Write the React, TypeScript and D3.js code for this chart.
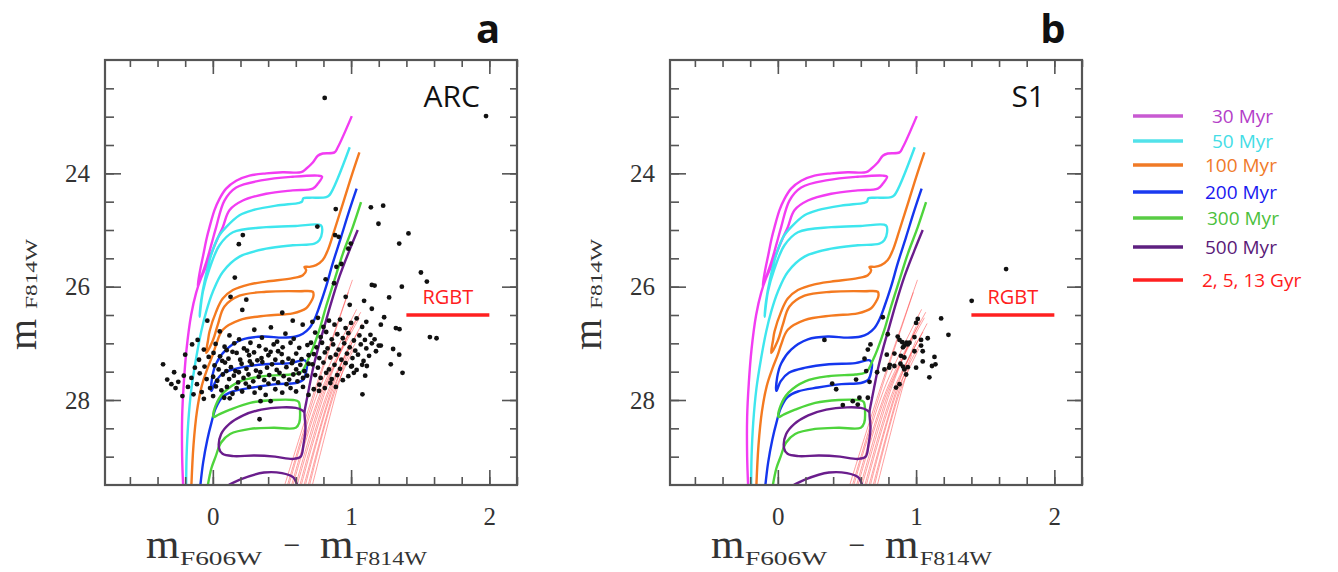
import React, { useEffect, useRef } from "react";
import * as d3 from "d3";

// Isochrone tracks, as [m_F606W - m_F814W, m_F814W]
// Each young track runs MS -> first crossing -> loop -> second crossing -> red branch
const track30 = [
  [-0.215, 29.5], [-0.222, 29.0], [-0.222, 28.3], [-0.21, 27.7], [-0.19, 27.1], [-0.157, 26.5],
  [-0.12, 26.1], [-0.085, 25.85], [-0.04, 25.6], [0.0, 25.35], [0.04, 25.12], [0.072, 24.95],
  [0.12, 24.65], [0.217, 24.48], [0.386, 24.36], [0.578, 24.3], [0.723, 24.27], [0.76, 24.18],
  [0.79, 24.06], [0.759, 24.04], [0.578, 24.06], [0.361, 24.12], [0.169, 24.25], [0.084, 24.48],
  [0.024, 24.95], [-0.01, 25.25], [-0.045, 25.55], [-0.08, 25.8], [-0.11, 26.0], [-0.095, 25.75],
  [-0.07, 25.45], [-0.045, 25.15], [-0.024, 24.95], [0.012, 24.65], [0.048, 24.45], [0.096, 24.27],
  [0.169, 24.13], [0.265, 24.04], [0.386, 24.0], [0.506, 23.98], [0.639, 23.98], [0.675, 23.92],
  [0.723, 23.81], [0.759, 23.69], [0.795, 23.65], [0.88, 23.63], [0.904, 23.54], [1.005, 22.99],
];
const track50 = [
  [-0.193, 29.5], [-0.19, 29.0], [-0.178, 28.4], [-0.155, 27.8], [-0.12, 27.25], [-0.084, 26.79],
  [-0.048, 26.44], [0.0, 26.09], [0.072, 25.74], [0.193, 25.47], [0.386, 25.33], [0.578, 25.27],
  [0.735, 25.24], [0.77, 25.18], [0.79, 25.04], [0.783, 24.92], [0.6, 24.93], [0.386, 24.95],
  [0.145, 25.04], [0.048, 25.27], [-0.024, 25.68], [-0.072, 26.09], [-0.096, 26.53], [-0.085, 26.25],
  [-0.055, 25.85], [-0.01, 25.42], [0.04, 25.12], [0.096, 24.95], [0.193, 24.74], [0.289, 24.65],
  [0.458, 24.57], [0.627, 24.52], [0.645, 24.5], [0.655, 24.44], [0.7, 24.43], [0.82, 24.42],
  [0.845, 24.38], [0.99, 23.54],
];
const track100 = [
  [-0.155, 29.5], [-0.14, 28.8], [-0.115, 28.2], [-0.08, 27.75], [-0.04, 27.45], [0.0, 27.2],
  [0.024, 27.02], [0.072, 26.76], [0.193, 26.59], [0.386, 26.51], [0.578, 26.47], [0.675, 26.38],
  [0.718, 26.23], [0.728, 26.16], [0.723, 26.09], [0.627, 26.08], [0.386, 26.09], [0.193, 26.16],
  [0.084, 26.35], [0.036, 26.67], [0.0, 26.95], [-0.048, 27.17], [-0.035, 26.95], [-0.024, 26.79],
  [0.024, 26.44], [0.072, 26.21], [0.145, 26.06], [0.265, 25.96], [0.386, 25.91], [0.578, 25.85],
  [0.651, 25.8], [0.675, 25.71], [0.663, 25.65], [0.699, 25.65], [0.747, 25.62], [0.795, 25.53],
  [0.831, 25.36], [0.88, 25.0], [0.94, 24.54], [1.0, 24.07], [1.06, 23.63],
];
const track200 = [
  [-0.09, 29.5], [-0.07, 29.1], [-0.04, 28.7], [-0.01, 28.4], [0.02, 28.15], [0.07, 27.95],
  [0.145, 27.85], [0.29, 27.78], [0.46, 27.72], [0.6, 27.7], [0.655, 27.64], [0.675, 27.5],
  [0.68, 27.35], [0.665, 27.3], [0.56, 27.35], [0.37, 27.37], [0.2, 27.43], [0.08, 27.52],
  [0.02, 27.67], [-0.01, 27.84], [-0.005, 27.6], [0.025, 27.35], [0.096, 27.11], [0.217, 26.93],
  [0.361, 26.88], [0.506, 26.9], [0.6, 26.88], [0.651, 26.83], [0.699, 26.73], [0.735, 26.58],
  [0.771, 26.35], [0.819, 26.0], [0.867, 25.59], [0.928, 25.12], [0.988, 24.65], [1.04, 24.27],
];
const track300 = [
  [-0.036, 29.5], [-0.01, 29.2], [0.02, 29.0], [0.06, 28.75], [0.125, 28.6], [0.27, 28.51],
  [0.44, 28.49], [0.6, 28.49], [0.625, 28.4], [0.631, 28.22], [0.62, 28.03], [0.58, 28.0],
  [0.44, 28.0], [0.27, 28.05], [0.125, 28.17], [0.04, 28.26], [0.005, 28.3], [0.02, 28.1],
  [0.077, 27.87], [0.198, 27.67], [0.366, 27.58], [0.56, 27.55], [0.63, 27.52], [0.655, 27.46],
  [0.687, 27.3], [0.72, 27.11], [0.771, 26.76], [0.819, 26.35], [0.88, 25.88], [0.94, 25.42],
  [1.012, 24.95], [1.072, 24.51],
];
const track500 = [
  [1.048, 25.0], [0.988, 25.36], [0.916, 25.82], [0.855, 26.29], [0.807, 26.7], [0.759, 27.11],
  [0.723, 27.46], [0.699, 27.75], [0.675, 28.05], [0.663, 28.22], [0.67, 28.5], [0.655, 28.8],
  [0.635, 29.0], [0.58, 29.04], [0.45, 29.0], [0.3, 28.98], [0.15, 28.99], [0.07, 28.95],
  [0.045, 28.85], [0.06, 28.6], [0.12, 28.42], [0.22, 28.27], [0.35, 28.17], [0.5, 28.13],
  [0.6, 28.14], [0.645, 28.18], [0.663, 28.22],
];
const track500low = [
  [0.1, 29.52], [0.2, 29.4], [0.37, 29.28], [0.5, 29.29], [0.58, 29.36], [0.61, 29.5],
];

// 2, 5, 13 Gyr red giant branches (thin red bundle)
const oldTracks = [
  [[0.52, 29.5], [0.74, 27.8], [1.01, 25.88]],
  [[0.54, 29.5], [0.75, 27.8], [0.98, 26.1]],
  [[0.55, 29.5], [0.77, 27.8], [1.04, 26.4]],
  [[0.57, 29.5], [0.79, 27.8], [1.07, 26.45]],
  [[0.58, 29.5], [0.8, 27.8], [1.06, 26.55]],
  [[0.6, 29.5], [0.81, 27.8], [1.03, 26.6]],
  [[0.61, 29.5], [0.82, 27.8], [1.0, 26.7]],
  [[0.63, 29.5], [0.84, 27.8], [1.05, 26.8]],
  [[0.64, 29.5], [0.85, 27.8], [1.08, 26.65]],
  [[0.66, 29.5], [0.86, 27.8], [1.0, 26.95]],
  [[0.67, 29.5], [0.87, 27.8], [1.03, 27.0]],
  [[0.69, 29.5], [0.88, 27.8], [0.97, 27.2]],
  [[0.7, 29.5], [0.89, 27.8], [1.02, 27.1]],
  [[0.72, 29.5], [0.9, 27.8], [0.95, 27.4]],
];

// observed stars, ARC field
const starsArc = [
  [-0.36, 27.37], [-0.28, 27.51], [-0.3, 27.72], [-0.25, 27.68], [-0.22, 27.93], [-0.2, 27.2],
  [-0.15, 27.02], [-0.11, 26.94], [-0.1, 27.29], [-0.065, 27.11], [-0.04, 26.6], [-0.21, 27.57],
  [-0.18, 27.77], [-0.155, 27.61], [-0.13, 27.43], [-0.115, 27.72], [-0.095, 27.53], [-0.08, 27.86],
  [-0.065, 27.98], [-0.33, 27.64], [-0.27, 27.79], [-0.14, 27.9], [-0.06, 27.41], [-0.045, 27.63],
  [-0.03, 27.24], [-0.02, 27.79],
  [0.05, 26.79], [0.19, 26.93], [0.3, 26.76], [0.42, 26.72], [0.525, 26.83], [0.65, 26.67],
  [0.355, 26.9], [0.12, 26.86], [0.585, 26.92], [0.465, 26.97],
  [0.02, 27.01], [0.085, 27.06], [0.155, 27.0], [0.225, 27.09], [0.272, 26.99], [0.335, 27.05],
  [0.383, 27.11], [0.44, 27.02], [0.505, 27.07], [0.562, 26.99], [0.625, 27.08], [0.684, 27.03],
  [0.1, 27.12], [0.248, 27.13], [0.472, 27.14],
  [0.005, 27.17], [0.052, 27.23], [0.113, 27.27], [0.172, 27.17], [0.198, 27.29], [0.262, 27.21],
  [0.298, 27.16], [0.352, 27.26], [0.402, 27.21], [0.452, 27.29], [0.498, 27.19], [0.547, 27.27],
  [0.603, 27.18], [0.642, 27.28], [0.693, 27.21], [0.142, 27.15], [0.322, 27.3], [0.578, 27.31],
  [0.068, 27.31], [0.418, 27.15],
  [0.012, 27.39], [0.042, 27.46], [0.088, 27.34], [0.131, 27.42], [0.163, 27.49], [0.208, 27.36],
  [0.243, 27.45], [0.282, 27.37], [0.312, 27.48], [0.358, 27.33], [0.392, 27.43], [0.428, 27.37],
  [0.462, 27.47], [0.503, 27.33], [0.532, 27.42], [0.572, 27.35], [0.603, 27.46], [0.633, 27.38],
  [0.662, 27.49], [0.692, 27.36], [0.188, 27.51], [0.343, 27.51], [0.482, 27.52], [0.622, 27.53],
  [0.098, 27.49], [0.268, 27.32],
  [0.002, 27.59], [0.032, 27.66], [0.072, 27.55], [0.118, 27.63], [0.152, 27.57], [0.183, 27.69],
  [0.222, 27.61], [0.258, 27.55], [0.292, 27.67], [0.332, 27.59], [0.372, 27.65], [0.408, 27.56],
  [0.442, 27.63], [0.472, 27.69], [0.512, 27.58], [0.552, 27.64], [0.582, 27.55], [0.612, 27.67],
  [0.652, 27.61], [0.682, 27.57], [0.238, 27.71], [0.402, 27.71], [0.533, 27.72],
  [0.022, 27.76], [0.062, 27.83], [0.102, 27.77], [0.142, 27.89], [0.172, 27.79], [0.212, 27.85],
  [0.262, 27.77], [0.302, 27.87], [0.342, 27.79], [0.382, 27.91], [0.452, 27.81], [0.502, 27.87],
  [0.562, 27.79], [0.602, 27.85], [0.652, 27.77], [0.692, 27.91], [0.002, 27.93], [0.082, 27.96],
  [0.345, 28.02], [0.418, 28.02], [0.338, 28.34], [0.122, 27.97],
  [0.72, 26.62], [0.76, 26.55], [0.8, 26.71], [0.84, 26.6], [0.88, 26.67], [0.92, 26.58],
  [0.96, 26.73], [1.0, 26.64], [1.04, 26.56], [1.08, 26.71], [1.11, 26.62], [0.74, 26.81],
  [0.78, 26.89], [0.82, 26.8], [0.86, 26.93], [0.9, 26.84], [0.94, 26.91], [0.98, 26.82],
  [1.02, 26.95], [1.06, 26.86], [1.1, 26.94], [1.14, 26.85], [0.71, 26.99], [0.75, 27.07],
  [0.79, 26.99], [0.83, 27.09], [0.87, 27.02], [0.91, 27.11], [0.95, 27.0], [0.99, 27.07],
  [1.03, 27.13], [1.07, 27.02], [1.11, 27.09], [1.15, 27.0], [0.73, 27.19], [0.77, 27.26],
  [0.81, 27.16], [0.85, 27.25], [0.89, 27.2], [0.93, 27.29], [0.97, 27.18], [1.01, 27.26],
  [1.05, 27.2], [1.09, 27.31], [1.13, 27.22], [0.72, 27.37], [0.76, 27.43], [0.8, 27.34],
  [0.84, 27.46], [0.88, 27.38], [0.92, 27.45], [0.96, 27.35], [1.0, 27.41], [1.04, 27.47],
  [1.08, 27.38], [0.74, 27.56], [0.78, 27.61], [0.82, 27.52], [0.86, 27.63], [0.9, 27.56],
  [0.94, 27.65], [0.98, 27.58], [1.02, 27.52], [0.77, 27.73], [0.81, 27.79], [0.85, 27.7],
  [0.89, 27.77], [0.768, 27.84], [0.73, 27.81], [1.082, 27.9],
  [1.143, 24.6], [1.232, 24.57], [1.198, 24.89], [0.889, 24.63], [0.756, 24.94], [1.415, 25.06],
  [1.348, 25.24], [0.884, 25.09], [0.91, 25.12], [0.998, 25.24], [0.98, 25.33], [0.894, 25.65],
  [0.93, 25.6], [1.505, 25.75], [1.548, 25.91], [1.15, 25.97], [1.17, 25.98], [1.367, 26.0],
  [0.816, 25.87], [0.877, 25.94], [1.275, 26.19], [1.094, 26.25], [1.15, 26.39], [0.961, 26.18],
  [0.99, 26.32], [1.239, 26.54], [1.215, 26.67], [1.324, 26.73], [1.35, 26.75], [1.57, 26.89],
  [1.618, 26.91], [1.304, 27.1], [1.215, 27.04], [1.348, 27.2], [1.287, 27.37], [1.372, 27.52],
  [1.18, 27.14], [1.2, 27.04], [1.102, 27.57], [1.114, 27.4], [1.006, 27.4], [1.17, 26.93],
  [0.809, 22.67], [1.976, 22.99],
  [0.217, 25.09], [0.188, 25.25], [0.159, 25.84], [0.128, 26.18], [0.242, 26.23], [0.213, 26.41],
  [0.502, 26.46], [0.578, 26.6],
];

// observed stars, S1 field
const starsS1 = [
  [1.651, 25.69], [1.402, 26.25], [1.181, 26.56], [1.234, 26.85], [1.012, 26.57], [1.0, 26.64],
  [0.759, 26.54], [0.337, 26.94], [0.795, 26.84], [0.867, 26.88], [0.88, 26.94], [0.988, 26.89],
  [1.036, 26.94], [1.084, 26.91], [0.67, 27.02], [0.651, 27.11], [0.9, 26.98], [0.93, 26.99],
  [0.94, 27.02], [0.915, 27.04], [0.905, 27.07], [0.952, 26.99], [1.036, 27.04], [0.988, 27.14],
  [1.048, 27.14], [0.627, 27.27], [0.788, 27.2], [0.843, 27.18], [0.89, 27.22], [0.915, 27.25],
  [1.133, 27.24], [1.14, 27.37], [1.115, 27.4], [1.048, 27.32], [0.81, 27.38], [0.843, 27.4],
  [0.805, 27.43], [0.887, 27.36], [0.905, 27.41], [0.94, 27.42], [0.915, 27.46], [1.0, 27.43],
  [0.771, 27.46], [0.718, 27.51], [0.639, 27.49], [0.928, 27.55], [1.096, 27.6], [0.88, 27.72],
  [0.855, 27.78], [0.566, 27.64], [0.663, 27.68], [0.393, 27.71], [0.422, 27.81], [0.59, 27.96],
  [0.651, 27.96], [0.542, 28.02], [0.578, 28.08], [0.47, 28.09],
];

const rgbtLevel = [[1.4, 26.5], [2.0, 26.5]];

const ages = ["30 Myr", "50 Myr", "100 Myr", "200 Myr", "300 Myr", "500 Myr", "2, 5, 13 Gyr"];
const lineColors = ["#f23cf2", "#3ee6ee", "#f47a20", "#1436ee", "#4ed43c", "#6a1d8c", "#ff2a2a"];
const legendLineColors = ["#c85ad2", "#52e2ea", "#f07a26", "#1a3af0", "#58cc44", "#5e2080", "#ff2020"];
const textColors = ["#b43ec8", "#44dde6", "#f07a2a", "#1a1af0", "#4cc03c", "#5a1a78", "#ff1a1a"];

const xTicks = [0, 1, 2];
const yTicks = [24, 26, 28];

// layout
const W = 1338;
const H = 572;
const PW = 412;
const PH = 425;
const TOP = 60;
const serif = "'Liberation Serif', 'DejaVu Serif', serif";
const sans = "'Open Sans', 'Liberation Sans', sans-serif";

const Panel = ({ left, letter, name, stars, id }) => {
  const ref = useRef(null);

  useEffect(() => {
    const g = d3.select(ref.current);
    g.selectAll("*").remove();

    const x = d3.scaleLinear().domain([-0.78, 2.2]).range([0, PW]);
    const y = d3.scaleLinear().domain([22, 29.5]).range([0, PH]);
    const line = d3
      .line()
      .x((d) => x(d[0]))
      .y((d) => y(d[1]))
      .curve(d3.curveCatmullRom.alpha(0.5));

    g.append("clipPath").attr("id", id).append("rect").attr("width", PW).attr("height", PH);
    const plot = g.append("g").attr("clip-path", `url(#${id})`);

    // old red giant branches
    plot
      .selectAll(".old")
      .data(oldTracks)
      .join("path")
      .attr("d", (d) => line(d))
      .attr("fill", "none")
      .attr("stroke", "#ff4a4a")
      .attr("stroke-opacity", 0.6)
      .attr("stroke-width", 0.9);

    // young isochrones
    const young = [
      [track30, 0], [track50, 1], [track100, 2], [track200, 3],
      [track300, 4], [track500, 5], [track500low, 5],
    ];
    plot
      .selectAll(".iso")
      .data(young)
      .join("path")
      .attr("d", (d) => line(d[0]))
      .attr("fill", "none")
      .attr("stroke", (d) => lineColors[d[1]])
      .attr("stroke-width", 2.4)
      .attr("stroke-linejoin", "round");

    // stars
    plot
      .selectAll(".star")
      .data(stars)
      .join("circle")
      .attr("cx", (d) => x(d[0]))
      .attr("cy", (d) => y(d[1]))
      .attr("r", 2.4)
      .attr("fill", "#111");

    // RGB tip marker
    g.append("path")
      .attr("d", d3.line().x((d) => x(d[0])).y((d) => y(d[1]))(rgbtLevel))
      .attr("stroke", "#ff2020")
      .attr("stroke-width", 3.5);
    g.append("text")
      .attr("x", x((rgbtLevel[0][0] + rgbtLevel[1][0]) / 2))
      .attr("y", y(rgbtLevel[0][1]) - 11)
      .attr("text-anchor", "middle")
      .attr("font-family", sans)
      .attr("font-size", 20)
      .attr("fill", "#ff2020")
      .text("RGBT");

    // axes, ticks pointing inward
    const xMinor = d3.range(-3, 12).map((i) => i * 0.2);
    const yMinor = d3.range(45, 59).map((i) => i * 0.5);
    const blank = () => "";
    const axes = [
      [d3.axisBottom(x).tickValues(xMinor).tickSize(-8).tickFormat(blank), `translate(0,${PH})`],
      [d3.axisBottom(x).tickValues(xTicks).tickSize(-15).tickPadding(22).tickFormat(d3.format("d")), `translate(0,${PH})`],
      [d3.axisTop(x).tickValues(xMinor).tickSize(-7).tickFormat(blank), ""],
      [d3.axisTop(x).tickValues(xTicks).tickSize(-14).tickFormat(blank), ""],
      [d3.axisLeft(y).tickValues(yMinor).tickSize(-9).tickFormat(blank), ""],
      [d3.axisLeft(y).tickValues(yTicks).tickSize(-16).tickPadding(15).tickFormat(d3.format("d")), ""],
      [d3.axisRight(y).tickValues(yMinor).tickSize(-7).tickFormat(blank), `translate(${PW},0)`],
      [d3.axisRight(y).tickValues(yTicks).tickSize(-15).tickFormat(blank), `translate(${PW},0)`],
    ];
    axes.forEach(([ax, tr]) => {
      const a = g.append("g").attr("transform", tr).call(ax);
      a.select(".domain").remove();
      a.selectAll("line").attr("stroke", "#555").attr("stroke-width", 1.6);
      a.attr("font-family", serif).attr("font-size", 25).attr("color", "#333");
    });

    g.append("rect")
      .attr("width", PW)
      .attr("height", PH)
      .attr("fill", "none")
      .attr("stroke", "#555")
      .attr("stroke-width", 2.2);

    // x title: m_F606W - m_F814W
    const xt = g.append("g").attr("fill", "#333").attr("font-family", serif);
    xt.append("text").attr("x", 41).attr("y", PH + 73).attr("font-size", 43).text("m");
    xt.append("text").attr("x", 75).attr("y", PH + 80).attr("font-size", 18)
      .attr("textLength", 82).attr("lengthAdjust", "spacingAndGlyphs").text("F606W");
    xt.append("text").attr("x", 187).attr("y", PH + 70).attr("font-size", 30)
      .attr("text-anchor", "middle").text("\u2212");
    xt.append("text").attr("x", 215).attr("y", PH + 73).attr("font-size", 43).text("m");
    xt.append("text").attr("x", 250).attr("y", PH + 80).attr("font-size", 18)
      .attr("textLength", 72).attr("lengthAdjust", "spacingAndGlyphs").text("F814W");

    // y title: m_F814W, rotated, reading upward
    const yt = g.append("g")
      .attr("transform", `translate(-69,0) rotate(-90)`)
      .attr("fill", "#333")
      .attr("font-family", serif);
    yt.append("text").attr("x", -(350 - TOP)).attr("y", 0).attr("font-size", 40).text("m");
    yt.append("text").attr("x", -(309 - TOP)).attr("y", 1).attr("font-size", 17)
      .attr("textLength", 70).attr("lengthAdjust", "spacingAndGlyphs").text("F814W");

    // panel letter and field name
    g.append("text")
      .attr("x", 383)
      .attr("y", 43 - TOP)
      .attr("text-anchor", "middle")
      .attr("font-family", sans)
      .attr("font-weight", 700)
      .attr("font-size", 40)
      .attr("fill", "#111")
      .text(letter);
    g.append("text")
      .attr("x", PW - 37)
      .attr("y", 107 - TOP)
      .attr("text-anchor", "end")
      .attr("font-family", sans)
      .attr("font-size", 30)
      .attr("fill", "#111")
      .text(name);
  }, []);

  return <g ref={ref} transform={`translate(${left},${TOP})`} />;
};

const legendRows = [
  { y: 116, tx: 1212 },
  { y: 141, tx: 1212 },
  { y: 165, tx: 1205 },
  { y: 192, tx: 1205 },
  { y: 218, tx: 1207 },
  { y: 247, tx: 1205 },
  { y: 280, tx: 1202 },
];

const Legend = () => (
  <g>
    {ages.map((a, i) => (
      <g key={a}>
        <line x1={1133} x2={1183} y1={legendRows[i].y} y2={legendRows[i].y}
          stroke={legendLineColors[i]} strokeWidth={3.5} />
        <text x={legendRows[i].tx} y={legendRows[i].y + 7} fontFamily={sans} fontSize={19}
          fill={textColors[i]}>{a}</text>
      </g>
    ))}
  </g>
);

export default function App() {
  return (
    <svg width={W} height={H} style={{ position: "absolute", left: 0, top: 0, background: "#fff" }}>
      <rect width={W} height={H} fill="#fff" />
      <Panel left={105} letter="a" name="ARC" stars={starsArc} id="clipA" />
      <Panel left={670} letter="b" name="S1" stars={starsS1} id="clipB" />
      <Legend />
    </svg>
  );
}
